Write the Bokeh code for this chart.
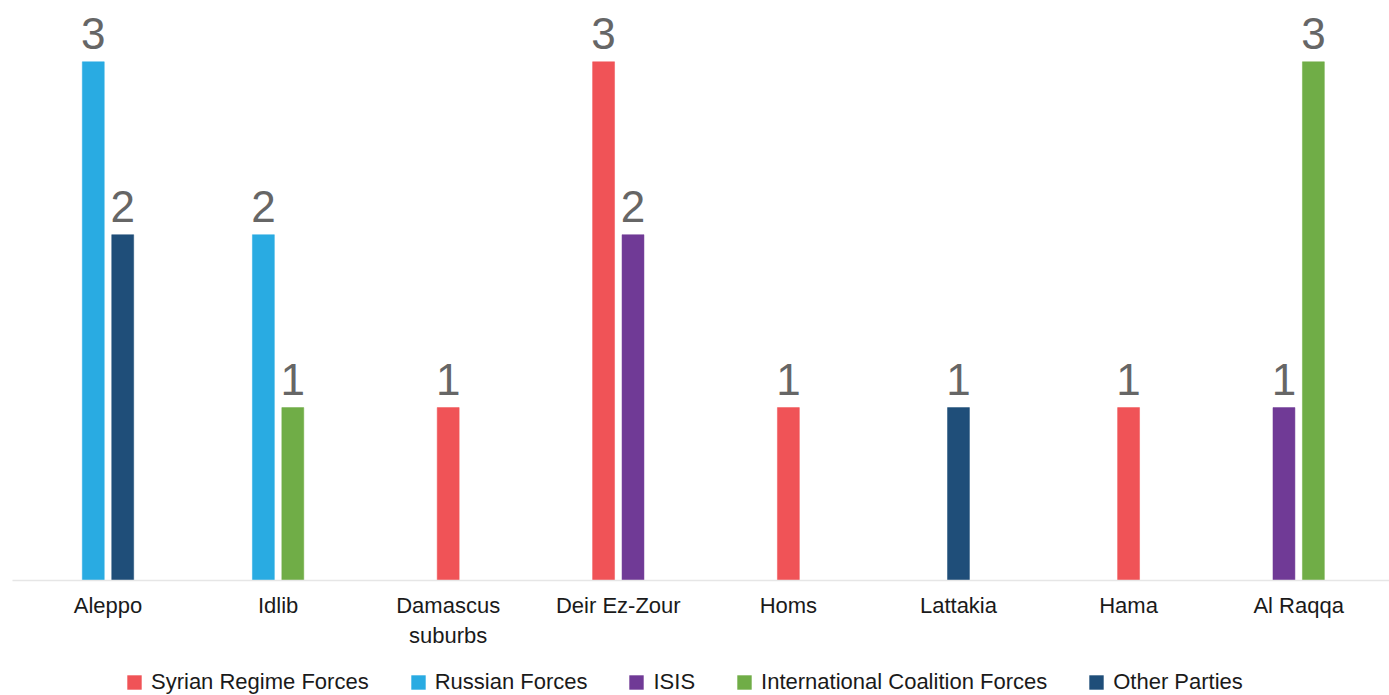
from bokeh.plotting import figure
from bokeh.models import ColumnDataSource, Range1d, FixedTicker, Legend, LegendItem
from bokeh.layouts import column
from bokeh.core.properties import value
from bokeh.embed import file_html
from bokeh.resources import INLINE

# ---- data ----
categories = ["Aleppo", "Idlib", "Damascus\nsuburbs", "Deir Ez-Zour", "Homs",
              "Lattakia", "Hama", "Al Raqqa"]
series_names = ["Syrian Regime Forces", "Russian Forces", "ISIS",
                "International Coalition Forces", "Other Parties"]
syrian_regime = [0, 0, 1, 3, 1, 0, 1, 0]
russian = [3, 2, 0, 0, 0, 0, 0, 0]
isis = [0, 0, 0, 2, 0, 0, 0, 1]
coalition = [0, 1, 0, 0, 0, 0, 0, 3]
other_parties = [2, 0, 0, 0, 0, 1, 0, 0]
colors = ["#F05357", "#29ABE2", "#703A96", "#70AD47", "#1F4E79"]

series_values = [syrian_regime, russian, isis, coalition, other_parties]

# ---- layout constants ----
BAR_W = 0.129      # bar width in category units
PITCH = 0.173      # distance between bar centres inside a category
FONT = "Liberation Sans"

# compute bar positions: non-zero bars of each category centred on it
xs = {k: [] for k in range(len(series_names))}
tops = {k: [] for k in range(len(series_names))}
lab_x, lab_y, lab_t = [], [], []
for i in range(len(categories)):
    present = [k for k in range(len(series_names)) if series_values[k][i] > 0]
    n = len(present)
    for j, k in enumerate(present):
        x = i + (j - (n - 1) / 2) * PITCH
        v = series_values[k][i]
        xs[k].append(x)
        tops[k].append(v)
        lab_x.append(x)
        lab_y.append(v)
        lab_t.append(str(v))

# ---- main chart ----
p = figure(width=1389, height=659,
           x_range=Range1d(-0.5614, 7.534), y_range=Range1d(0, 3.3545),
           output_backend="svg", toolbar_location=None,
           min_border_left=12, min_border_right=0, min_border_top=0,
           min_border_bottom=79, y_axis_location=None,
           outline_line_color=None, background_fill_color="white",
           border_fill_color="white")
p.grid.visible = False

for k, name in enumerate(series_names):
    src = ColumnDataSource(dict(x=xs[k], top=tops[k]))
    p.vbar(x="x", top="top", bottom=0, width=BAR_W, source=src,
           fill_color=colors[k], line_color=colors[k], line_width=0.5)

lab_src = ColumnDataSource(dict(x=lab_x, y=lab_y, t=lab_t))
p.text(x="x", y="y", text="t", source=lab_src,
       text_font=value(FONT), text_font_size=value("44px"),
       text_color="#666666", text_align="center", text_baseline="alphabetic",
       y_offset=-28)

ax = p.xaxis[0]
ax.ticker = FixedTicker(ticks=list(range(len(categories))))
ax.major_label_overrides = {i: c for i, c in enumerate(categories)}
ax.major_tick_line_color = None
ax.major_tick_out = 0
ax.major_tick_in = 0
ax.minor_tick_line_color = None
ax.minor_tick_out = 0
ax.axis_line_color = "#e6e6e6"
ax.axis_line_width = 1.5
ax.major_label_text_font = FONT
ax.major_label_text_font_size = "22px"
ax.major_label_text_color = "#1a1a1a"
ax.major_label_standoff = 12

# ---- legend strip (zero-height proxy glyphs outside the visible range) ----
p2 = figure(width=1389, height=36, x_range=Range1d(0, 1), y_range=Range1d(0, 1),
            output_backend="svg", toolbar_location=None,
            x_axis_location=None, y_axis_location=None,
            min_border_left=0, min_border_right=0, min_border_top=0,
            min_border_bottom=0, outline_line_color=None,
            background_fill_color="white", border_fill_color="white")
p2.grid.visible = False
items = []
for k, name in enumerate(series_names):
    r = p2.vbar(x=[-10], top=[0], width=0.1, fill_color=colors[k],
                line_color=None)
    items.append(LegendItem(label=name, renderers=[r]))

legend = Legend(items=items, orientation="horizontal", location=(113, 0),
                glyph_width=18, glyph_height=18, label_standoff=8, spacing=40,
                padding=0, margin=0, border_line_alpha=0,
                background_fill_alpha=0,
                label_text_font=FONT, label_text_font_size="22px",
                label_text_color="#1a1a1a")
p2.add_layout(legend)

layout = column(p, p2, spacing=0)
open("out.html", "w").write(file_html(layout, INLINE))
